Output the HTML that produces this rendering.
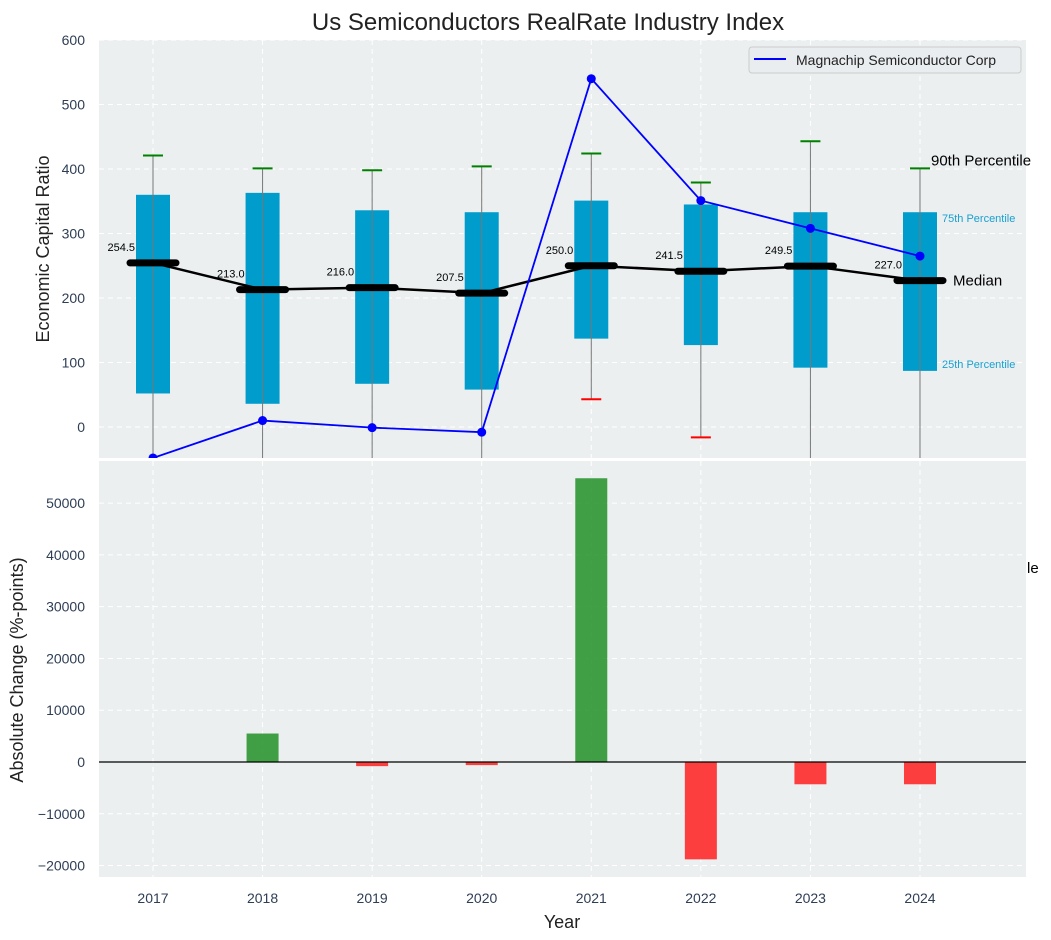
<!DOCTYPE html>
<html><head><meta charset="utf-8"><style>
body{margin:0;background:#fff;}
svg{display:block;font-family:"Liberation Sans",Arial,sans-serif;}
</style></head><body>
<svg id="c" width="1051" height="940" xmlns="http://www.w3.org/2000/svg"></svg>
<script>
const years=[2017,2018,2019,2020,2021,2022,2023,2024];
const q25=[52,36,67,58,137,127,92,87];
const q75=[360,363,336,333,351,345,333,333];
const p90=[421,401,398,404,424,379,443,401];
const p10=[-100,-100,-100,-100,43,-16,-100,-100];
const medians=[254.5,213.0,216.0,207.5,250.0,241.5,249.5,227.0];
const magna=[-48,10,-1,-8,540,351,308,265];
const changes=[null,5500,-800,-600,54800,-18800,-4300,-4300];
const topTicks=[0,100,200,300,400,500,600];
const botTicks=[-20000,-10000,0,10000,20000,30000,40000,50000];

const NS="http://www.w3.org/2000/svg";
const svg=document.getElementById('c');
function mk(tag,attrs,parent,text){const e=document.createElementNS(NS,tag);for(const k in attrs)e.setAttribute(k,attrs[k]);if(text!==undefined)e.textContent=text;(parent||svg).appendChild(e);return e;}
const L=99,R=1026,T1=40,B1=458,T2=461,B2=877;
const x=i=>153+i*109.57;
const y1=v=>427-v*0.645;
const y2=v=>762-v*0.005178;

const defs=mk('defs',{});
const c1=mk('clipPath',{id:'cp1'},defs);mk('rect',{x:L,y:T1,width:R-L,height:B1-T1},c1);
const c2=mk('clipPath',{id:'cp2'},defs);mk('rect',{x:L,y:T2,width:R-L,height:B2-T2},c2);

let e;
e=mk('rect',{x:L,y:T1,width:R-L,height:B1-T1,fill:'#ebeff0'});

e=mk('rect',{x:L,y:T2,width:R-L,height:B2-T2,fill:'#ebeff0'});


years.forEach((yr,i)=>{
 mk('line',{x1:x(i),x2:x(i),y1:T1,y2:B1,stroke:'#fff','stroke-dasharray':'5,4','stroke-width':1});
 mk('line',{x1:x(i),x2:x(i),y1:T2,y2:B2,stroke:'#fff','stroke-dasharray':'5,4','stroke-width':1});
 e=mk('text',{x:x(i),y:903,'text-anchor':'middle','font-size':14,fill:'#2e3e55'},svg,yr);
 
});
topTicks.forEach(t=>{
 mk('line',{x1:L,x2:R,y1:y1(t),y2:y1(t),stroke:'#fff','stroke-dasharray':'5,4'});
 e=mk('text',{x:85,y:y1(t)+5,'text-anchor':'end','font-size':14,fill:'#2e3e55'},svg,t);
 
});
botTicks.forEach(t=>{
 mk('line',{x1:L,x2:R,y1:y2(t),y2:y2(t),stroke:'#fff','stroke-dasharray':'5,4'});
 e=mk('text',{x:85,y:y2(t)+5,'text-anchor':'end','font-size':14,fill:'#2e3e55'},svg,String(t).replace('-','\u2212'));
 
});

const g1=mk('g',{'clip-path':'url(#cp1)'});
years.forEach((yr,i)=>{
 e=mk('rect',{x:x(i)-17,y:y1(q75[i]),width:34,height:y1(q25[i])-y1(q75[i]),fill:'#009ccc'},g1);
 
 e=mk('line',{x1:x(i),x2:x(i),y1:y1(p10[i]),y2:y1(p90[i]),stroke:'#777','stroke-width':1},g1);
 
 e=mk('line',{x1:x(i)-10,x2:x(i)+10,y1:y1(p90[i]),y2:y1(p90[i]),stroke:'green','stroke-width':2},g1);
 
 e=mk('line',{x1:x(i)-10,x2:x(i)+10,y1:y1(p10[i]),y2:y1(p10[i]),stroke:'red','stroke-width':2},g1);
 
});
e=mk('polyline',{points:medians.map((m,i)=>x(i)+','+y1(m)).join(' '),fill:'none',stroke:'#000','stroke-width':2.5},g1);

medians.forEach((m,i)=>{
 e=mk('line',{x1:x(i)-23,x2:x(i)+23,y1:y1(m),y2:y1(m),stroke:'#000','stroke-width':7,'stroke-linecap':'round'},g1);
 
 e=mk('text',{x:x(i)-18,y:y1(m)-12,'text-anchor':'end','font-size':11,fill:'#000'},g1,m.toFixed(1));
 
});
e=mk('polyline',{points:magna.map((m,i)=>x(i)+','+y1(m)).join(' '),fill:'none',stroke:'blue','stroke-width':1.8},g1);

magna.forEach((m,i)=>{
 e=mk('circle',{cx:x(i),cy:y1(m),r:4.5,fill:'blue'},g1);
 
});
const last=7;
e=mk('text',{x:x(last)+11,y:y1(p90[last])-3,'font-size':15,fill:'#000'},svg,'90th Percentile');

e=mk('text',{x:x(last)+22,y:y1(q75[last])+10,'font-size':11,fill:'#1aa0d0'},svg,'75th Percentile');

e=mk('text',{x:x(last)+22,y:y1(q25[last])-3,'font-size':11,fill:'#1aa0d0'},svg,'25th Percentile');

e=mk('text',{x:x(last)+33,y:y1(medians[last])+5,'font-size':15,fill:'#000'},svg,'Median');


const lg=mk('g',{});

mk('rect',{x:749,y:47,width:272,height:26,rx:3,fill:'#eaedf0',stroke:'#ccc'},lg);
mk('line',{x1:754,x2:786,y1:59,y2:59,stroke:'blue','stroke-width':2},lg);
mk('text',{x:796,y:65,'font-size':14,fill:'#222'},lg,'Magnachip Semiconductor Corp');

const g2=mk('g',{'clip-path':'url(#cp2)'});
changes.forEach((v,i)=>{
 if(v===null)return;
 const top=Math.min(y2(v),y2(0)),h=Math.abs(y2(v)-y2(0));
 e=mk('rect',{x:x(i)-16,y:top,width:32,height:h,fill:v>=0?'#2e9632':'#ff2a2a','fill-opacity':0.9},g2);
 
});
e=mk('line',{x1:L,x2:R,y1:y2(0),y2:y2(0),stroke:'#000','stroke-width':1.2});

e=mk('text',{x:1027,y:573,'font-size':15,fill:'#000'},svg,'le');


e=mk('text',{x:548,y:30,'text-anchor':'middle','font-size':24,fill:'#222'},svg,'Us Semiconductors RealRate Industry Index');

e=mk('text',{x:562,y:928,'text-anchor':'middle','font-size':18,fill:'#222'},svg,'Year');

e=mk('text',{x:0,y:0,'text-anchor':'middle','font-size':18,fill:'#222',transform:'translate(49,249) rotate(-90)'},svg,'Economic Capital Ratio');

e=mk('text',{x:0,y:0,'text-anchor':'middle','font-size':18,fill:'#222',transform:'translate(23,670) rotate(-90)'},svg,'Absolute Change (%-points)');

</script>
</body></html>
